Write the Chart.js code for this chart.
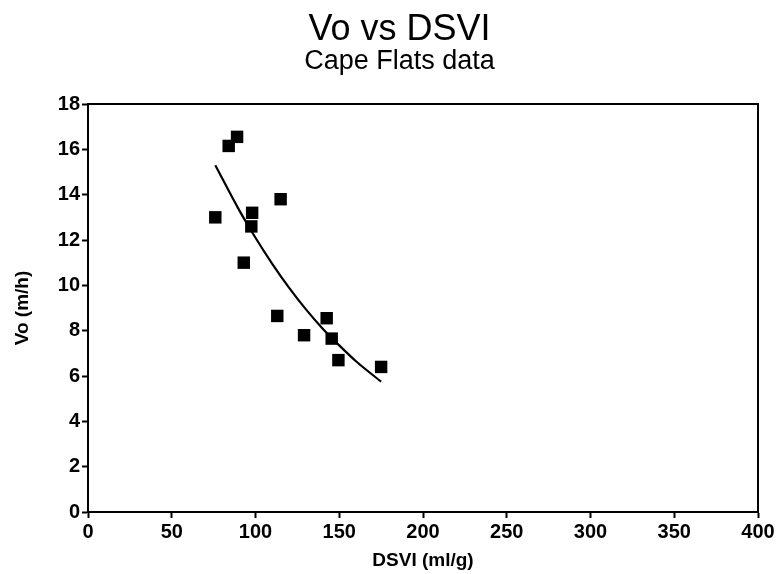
<!DOCTYPE html>
<html>
<head>
<meta charset="utf-8">
<script src="https://cdn.jsdelivr.net/npm/chart.js@4/dist/chart.umd.min.js"></script>
<style>
  html, body { margin: 0; padding: 0; background: #fff; }
  #wrap { width: 779px; height: 574px; }
</style>
</head>
<body>
<div id="wrap"><canvas id="chart"></canvas></div>
<script>
// measured points (DSVI ml/g, Vo m/h)
const dsvi = [76, 84, 89, 93, 97.5, 98, 113, 115, 129, 142.5, 145.5, 149.5, 175];
const vo = [13.0, 16.15, 16.55, 11.0, 12.6, 13.2, 8.65, 13.8, 7.8, 8.55, 7.65, 6.7, 6.4];

// fitted curve
const fitX = [76, 90, 100, 110, 120, 130, 140, 150, 160, 175];
const fitY = [15.3, 13.35, 12.1, 10.95, 9.9, 8.95, 8.1, 7.35, 6.65, 5.75];

const xTicks = [0, 50, 100, 150, 200, 250, 300, 350, 400];
const yTicks = [0, 2, 4, 6, 8, 10, 12, 14, 16, 18];

const FONT = "'Liberation Sans', Arial, sans-serif";

const toPts = (xs, ys) => xs.map((x, i) => ({ x: x, y: ys[i] }));

// box round the plot area
const frame = {
  id: "frame",
  afterDraw(chart) {
    const { ctx, chartArea: a } = chart;
    ctx.save();
    ctx.strokeStyle = "#000";
    ctx.lineWidth = 2;
    ctx.strokeRect(a.left, a.top, a.right - a.left, a.bottom - a.top);
    ctx.restore();
  },
};

new Chart(document.getElementById("chart"), {
  type: "scatter",
  data: {
    datasets: [
      {
        label: "fit",
        type: "line",
        data: toPts(fitX, fitY),
        borderColor: "#000",
        borderWidth: 2.2,
        pointRadius: 0,
        cubicInterpolationMode: "monotone",
        fill: false,
      },
      {
        label: "data",
        data: toPts(dsvi, vo),
        pointStyle: "rect",
        pointRadius: 8.8,
        backgroundColor: "#000",
        borderColor: "#000",
        borderWidth: 0,
      },
    ],
  },
  plugins: [frame],
  options: {
    responsive: true,
    maintainAspectRatio: false,
    animation: false,
    layout: { padding: { left: 20, right: 0, top: 0, bottom: 0 } },
    plugins: {
      legend: { display: false },
      tooltip: { enabled: false },
      title: {
        display: true,
        text: "Vo vs DSVI",
        color: "#000",
        font: { family: FONT, size: 36, weight: "normal", lineHeight: 1 },
        padding: { top: 12, bottom: 0 },
      },
      subtitle: {
        display: true,
        text: "Cape Flats data",
        color: "#000",
        font: { family: FONT, size: 27, weight: "normal", lineHeight: 1 },
        padding: { top: 0, bottom: 29 },
      },
    },
    scales: {
      x: {
        type: "linear",
        min: 0,
        max: 400,
        afterBuildTicks: (s) => { s.ticks = xTicks.map((v) => ({ value: v })); },
        afterFit: (s) => { s.height = 62; },
        border: { display: true, color: "#000", width: 2 },
        grid: { drawOnChartArea: false, color: "#000", tickLength: 6, tickWidth: 2 },
        ticks: {
          color: "#000",
          padding: 2,
          font: { family: FONT, size: 20, weight: "bold" },
        },
        title: {
          display: true,
          text: "DSVI (ml/g)",
          color: "#000",
          padding: { top: 0, bottom: 2 },
          font: { family: FONT, size: 19, weight: "bold" },
        },
      },
      y: {
        type: "linear",
        min: 0,
        max: 18,
        afterBuildTicks: (s) => { s.ticks = yTicks.map((v) => ({ value: v })); },
        afterFit: (s) => { s.width = 68; },
        border: { display: true, color: "#000", width: 2 },
        grid: { drawOnChartArea: false, color: "#000", tickLength: 6, tickWidth: 2 },
        ticks: {
          color: "#000",
          padding: 2,
          font: { family: FONT, size: 20, weight: "bold" },
        },
        title: {
          display: true,
          text: "Vo (m/h)",
          color: "#000",
          padding: { top: -7, bottom: 0 },
          font: { family: FONT, size: 19, weight: "bold", lineHeight: 1 },
        },
      },
      // empty strip on the right so the plot ends where the reference does
      y2: {
        type: "linear",
        position: "right",
        min: 0,
        max: 18,
        afterFit: (s) => { s.width = 21; },
        border: { display: false },
        grid: { display: false },
        ticks: { display: false },
      },
    },
  },
});
</script>
</body>
</html>
